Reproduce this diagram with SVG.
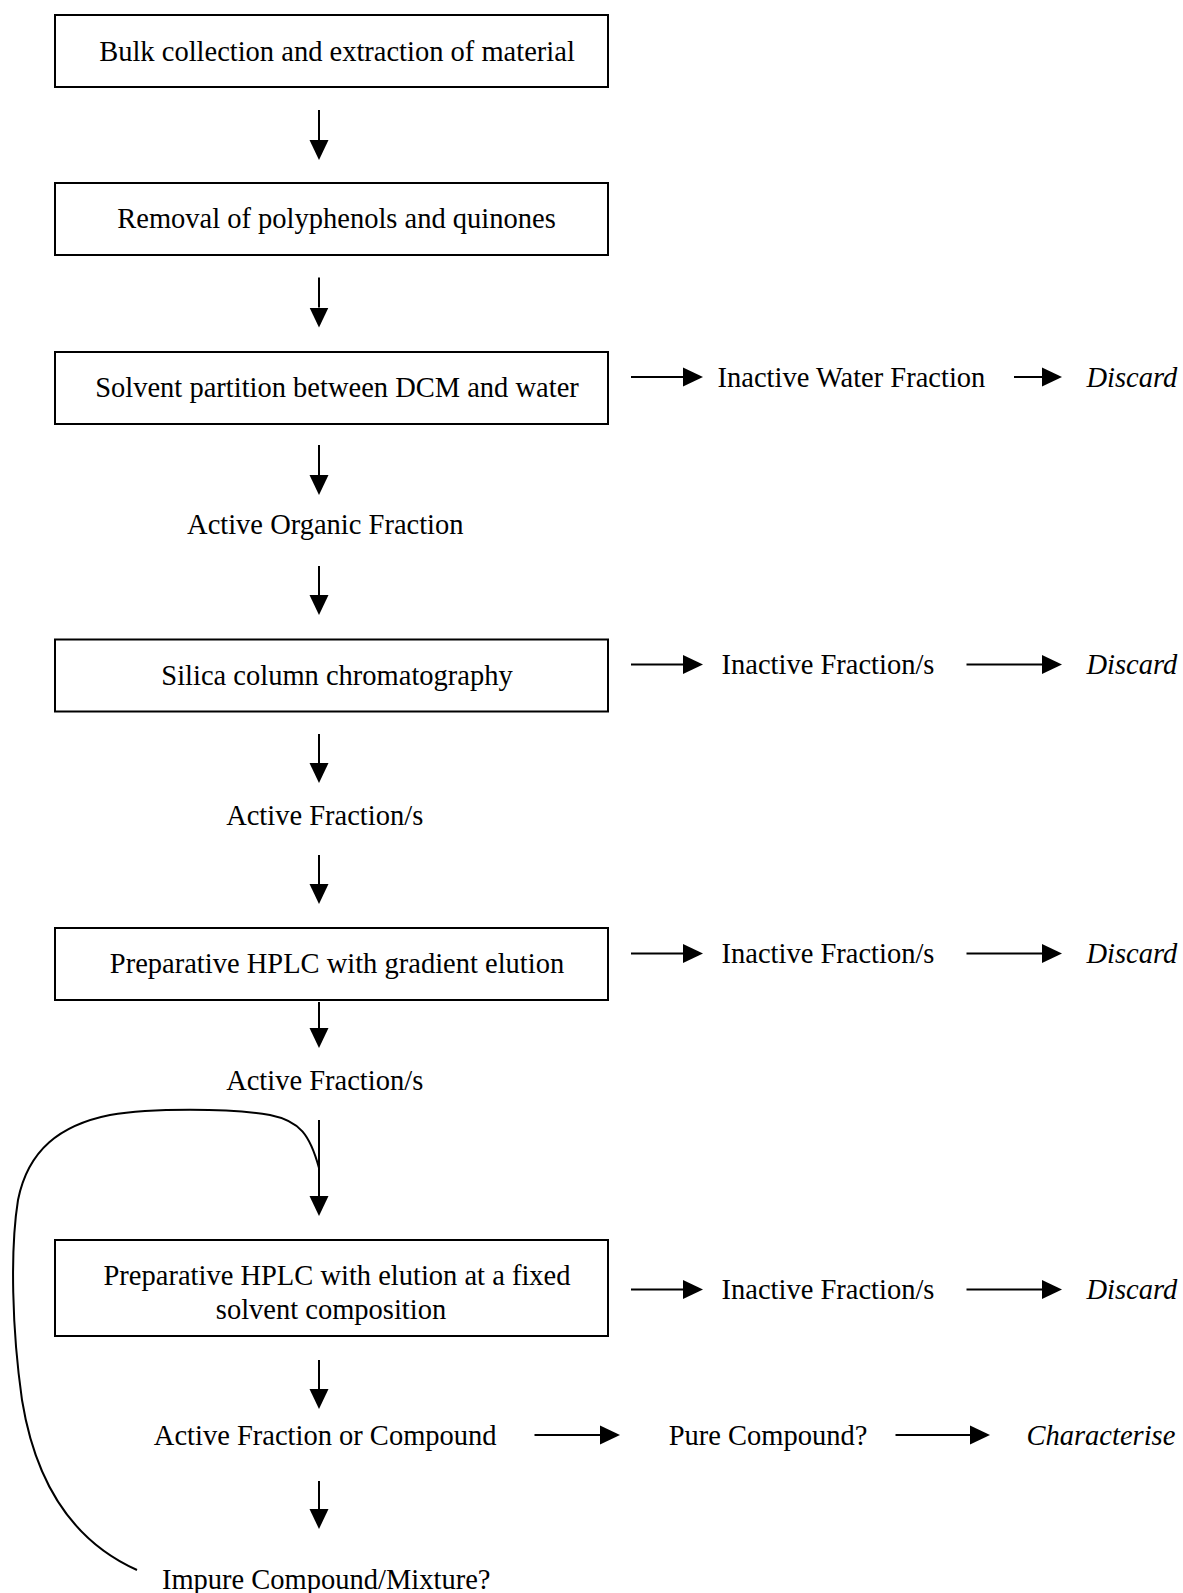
<svg xmlns="http://www.w3.org/2000/svg" width="1183" height="1593" viewBox="0 0 1183 1593">
<defs>
<marker id="ah" markerUnits="userSpaceOnUse" markerWidth="20" markerHeight="20" refX="0" refY="10" orient="auto" viewBox="0 0 20 20">
<path d="M0,0.5 L20,10 L0,19.5 Z" fill="#000"/>
</marker>
<style>
.box{fill:#fff;stroke:#000;stroke-width:2}
.t{font-family:"Liberation Serif","Times New Roman",serif;font-size:28.5px;fill:#000}
.m{text-anchor:middle}
.i{font-style:italic}
.c{fill:none;stroke:#000;stroke-width:2}
</style>
</defs>
<rect width="1183" height="1593" fill="#fff"/>

<g id="n1"><rect class="box" x="55" y="15" width="553" height="72"/><text class="t m" x="337" y="61">Bulk collection and extraction of material</text></g>
<g id="n2"><rect class="box" x="55" y="183" width="553" height="72"/><text class="t m" x="336.5" y="228">Removal of polyphenols and quinones</text></g>
<g id="n3"><rect class="box" x="55" y="352" width="553" height="72"/><text class="t m" x="337" y="397">Solvent partition between DCM and water</text></g>
<g id="n3w"><text class="t" x="717.5" y="386.5">Inactive Water Fraction</text></g>
<g id="n3d"><text class="t i" x="1086.5" y="386.5">Discard</text></g>
<g id="n4"><text class="t m" x="325.3" y="534">Active Organic Fraction</text></g>
<g id="n5"><rect class="box" x="55" y="639.5" width="553" height="72"/><text class="t m" x="337" y="684.5">Silica column chromatography</text></g>
<g id="n5w"><text class="t" x="721.5" y="674">Inactive Fraction/s</text></g>
<g id="n5d"><text class="t i" x="1086.5" y="674">Discard</text></g>
<g id="n6"><text class="t m" x="324.7" y="824.5">Active Fraction/s</text></g>
<g id="n7"><rect class="box" x="55" y="928" width="553" height="72"/><text class="t m" x="337" y="973">Preparative HPLC with gradient elution</text></g>
<g id="n7w"><text class="t" x="721.5" y="963">Inactive Fraction/s</text></g>
<g id="n7d"><text class="t i" x="1086.5" y="963">Discard</text></g>
<g id="n8"><text class="t m" x="324.7" y="1090">Active Fraction/s</text></g>
<g id="n9"><rect class="box" x="55" y="1240" width="553" height="96"/><text class="t m" x="337" y="1285">Preparative HPLC with elution at a fixed</text><text class="t m" x="331" y="1318.5">solvent composition</text></g>
<g id="n9w"><text class="t" x="721.5" y="1299">Inactive Fraction/s</text></g>
<g id="n9d"><text class="t i" x="1086.5" y="1299">Discard</text></g>
<g id="n10"><text class="t m" x="325.2" y="1444.5">Active Fraction or Compound</text></g>
<g id="n11"><text class="t" x="668.7" y="1444.5">Pure Compound?</text></g>
<g id="n12"><text class="t i" x="1026.5" y="1444.5">Characterise</text></g>
<g id="n13"><text class="t m" x="326.2" y="1589">Impure Compound/Mixture?</text></g>

<g id="connectors" class="c">
<line class="c" x1="319" y1="110" x2="319" y2="140" marker-end="url(#ah)"/>
<line class="c" x1="319" y1="277.5" x2="319" y2="307.5" marker-end="url(#ah)"/>
<line class="c" x1="319" y1="445" x2="319" y2="475" marker-end="url(#ah)"/>
<line class="c" x1="319" y1="566" x2="319" y2="595" marker-end="url(#ah)"/>
<line class="c" x1="319" y1="734" x2="319" y2="763" marker-end="url(#ah)"/>
<line class="c" x1="319" y1="855" x2="319" y2="884" marker-end="url(#ah)"/>
<line class="c" x1="319" y1="1002" x2="319" y2="1028" marker-end="url(#ah)"/>
<line class="c" x1="319" y1="1120" x2="319" y2="1196" marker-end="url(#ah)"/>
<line class="c" x1="319" y1="1360" x2="319" y2="1389" marker-end="url(#ah)"/>
<line class="c" x1="319" y1="1481" x2="319" y2="1509" marker-end="url(#ah)"/>

<line class="c" x1="631" y1="377" x2="683" y2="377" marker-end="url(#ah)"/>
<line class="c" x1="1014" y1="377" x2="1042" y2="377" marker-end="url(#ah)"/>
<line class="c" x1="631" y1="664.5" x2="683" y2="664.5" marker-end="url(#ah)"/>
<line class="c" x1="966.5" y1="664.5" x2="1042" y2="664.5" marker-end="url(#ah)"/>
<line class="c" x1="631" y1="953.5" x2="683" y2="953.5" marker-end="url(#ah)"/>
<line class="c" x1="966.5" y1="953.5" x2="1042" y2="953.5" marker-end="url(#ah)"/>
<line class="c" x1="631" y1="1289.5" x2="683" y2="1289.5" marker-end="url(#ah)"/>
<line class="c" x1="966.5" y1="1289.5" x2="1042" y2="1289.5" marker-end="url(#ah)"/>
<line class="c" x1="534.5" y1="1435" x2="600" y2="1435" marker-end="url(#ah)"/>
<line class="c" x1="895.5" y1="1435" x2="970" y2="1435" marker-end="url(#ah)"/>

<path class="c" d="M137,1570 C70,1540 35,1480 22,1400 C12,1330 10,1250 18,1200 C28,1150 60,1125 110,1115 C150,1108 230,1108 270,1115 C300,1121 310,1135 319,1168"/>
</g>
</svg>
